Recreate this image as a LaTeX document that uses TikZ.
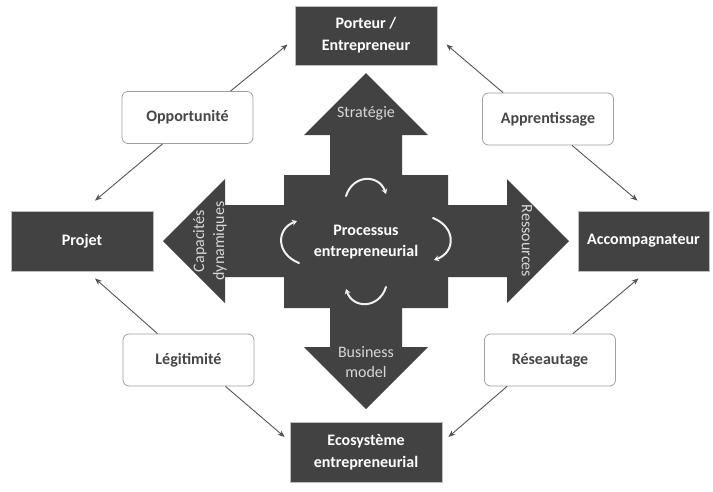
\documentclass[tikz,border=0pt]{standalone}
\usepackage{fontspec}
\setmainfont{Carlito}
\usetikzlibrary{arrows.meta}
\definecolor{slate}{RGB}{66,66,66}
\definecolor{rimgray}{RGB}{160,160,160}
\definecolor{tagtext}{RGB}{70,70,70}
\definecolor{linkgray}{RGB}{85,85,85}
\definecolor{armtext}{RGB}{215,215,215}
\begin{document}
\begin{tikzpicture}[x=1pt,y=-1pt,
  darkbox/.style={fill=slate, draw=rimgray!70, line width=0.8pt, text=white,
    font=\bfseries\fontsize{16}{22}\selectfont, align=center, inner sep=0pt},
  tagbox/.style={fill=white, draw=rimgray, rounded corners=6pt, line width=0.8pt,
    text=tagtext, font=\bfseries\fontsize{16}{19}\selectfont,
    minimum width=131pt, minimum height=52pt, inner sep=0pt},
  link/.style={draw=linkgray, line width=0.9pt, -{Stealth[length=7pt,width=5.5pt]}},
  cycle arc/.style={draw=gray!12, line width=2pt, line cap=round,
    -{Stealth[length=5pt,width=6pt]}},
  armlabel/.style={text=armtext, font=\fontsize{16}{20}\selectfont, align=center, inner sep=0pt},
  hub/.style={text=white, font=\bfseries\fontsize{16}{21}\selectfont, align=center, inner sep=0pt}]

\useasboundingbox (0,0) rectangle (713,491);
\fill[white] (0,0) rectangle (713,491);

% central double-headed cross
\fill[slate]
  (366,73) -- (428,135) -- (402,135) -- (402,175) -- (448,175) -- (448,205)
  -- (507,205) -- (507,179) -- (569,241) -- (507,303) -- (507,277)
  -- (448,277) -- (448,308) -- (402,308) -- (402,347) -- (428,347)
  -- (366,409) -- (304,347) -- (330,347) -- (330,308) -- (284,308)
  -- (284,277) -- (225,277) -- (225,303) -- (163,241) -- (225,179)
  -- (225,205) -- (284,205) -- (284,175) -- (330,175) -- (330,135)
  -- (304,135) -- cycle;

% cycle arrows around the hub
\draw[cycle arc] (346,196) .. controls (353,174) and (379,174) .. (386,194);
\draw[cycle arc] (433,218) .. controls (456,227) and (456,252) .. (434,260);
\draw[cycle arc] (386,287) .. controls (379,309) and (353,309) .. (346,289);
\draw[cycle arc] (299,263) .. controls (276,254) and (276,229) .. (297,221);

\node[hub] (proc) at (366,242) {Processus\\entrepreneurial};

% arm labels
\node[armlabel] (strat) at (366,113) {Stratégie};
\node[armlabel] (bm) at (366,362) {Business\\model};
\node[armlabel, rotate=90] (capa) at (210,241) {\fontsize{16}{16}\selectfont Capacités\\dynamiques};
\node[armlabel, rotate=-90] (ress) at (527,241) {Ressources};

% main actors
\node[darkbox, minimum width=142pt, minimum height=59pt] (port) at (366,35.5) {Porteur /\\Entrepreneur};
\node[darkbox, minimum width=142pt, minimum height=60pt] (proj) at (82,241) {Projet};
\node[darkbox, minimum width=131pt, minimum height=60pt] (acc) at (643.5,241) {Accompagnateur};
\node[darkbox, minimum width=152pt, minimum height=60pt] (eco) at (366,452) {Ecosystème\\entrepreneurial};

% linking mechanisms
\node[tagbox] (opp) at (187.5,117.5) {Opportunité};
\node[tagbox] (app) at (548,119) {Apprentissage};
\node[tagbox] (leg) at (188.5,360) {Légitimité};
\node[tagbox] (res) at (550,360) {Réseautage};

% connectors
\draw[link] ([xshift=43pt]opp.north) -- ([xshift=-7pt,yshift=-9pt]port.west);
\draw[link] ([xshift=-25pt]opp.south) -- ([xshift=13pt,yshift=10pt]proj.north);
\draw[link] ([xshift=-45pt]app.north) -- ([xshift=9pt,yshift=-9pt]port.east);
\draw[link] ([xshift=24pt]app.south) -- ([xshift=-6pt,yshift=10pt]acc.north);
\draw[link] ([xshift=-31pt]leg.north) -- ([xshift=13pt,yshift=-7pt]proj.south);
\draw[link] ([xshift=37pt]leg.south) -- ([xshift=-5pt,yshift=15pt]eco.west);
\draw[link] ([xshift=23pt]res.north) -- ([xshift=-5pt,yshift=-7pt]acc.south);
\draw[link] ([xshift=-43pt]res.south) -- ([xshift=6pt,yshift=15pt]eco.east);
\end{tikzpicture}
\end{document}
